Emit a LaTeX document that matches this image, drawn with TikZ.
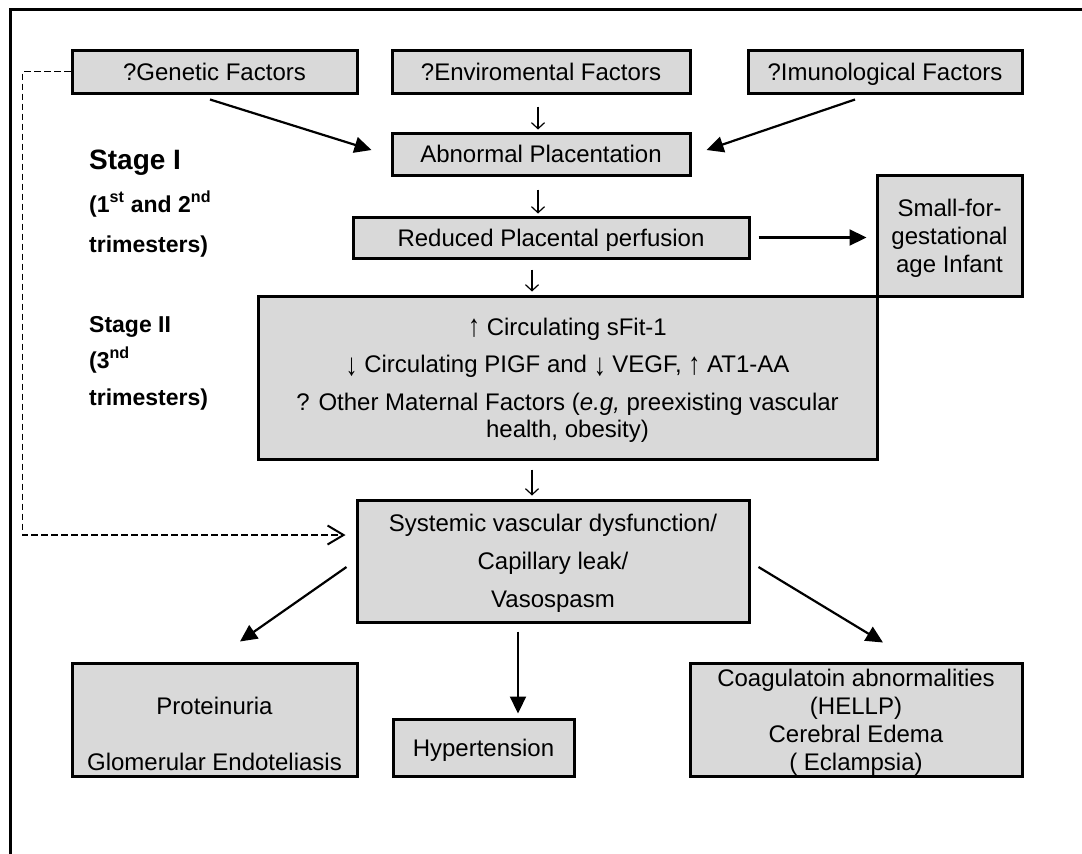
\documentclass[tikz,border=0pt]{standalone}
\usepackage{fontspec}
\usepackage{graphicx}
\setmainfont{Liberation Sans}
\usetikzlibrary{arrows.meta,calc}
\definecolor{boxgray}{HTML}{D9D9D9}
% centred stack of lines; reference point is the first baseline
\newcommand\stacklines[1]{\vtop{\halign{\hfil##\hfil\cr#1\crcr}}}
% taller up/down arrow glyphs for the factor list
\newcommand\uparr{\raisebox{-1.5pt}{\scalebox{1}[1.3]{↑}}}
\newcommand\dnarr{\raisebox{-2.5pt}{\scalebox{1}[1.3]{↓}}}

\begin{document}
\begin{tikzpicture}[x=1pt,y=-1pt,
  box/.style={draw=black, line width=3pt, fill=boxgray, inner sep=0pt,
    font=\fontsize{24}{28}\selectfont, text height=17.2pt, text depth=0pt},
  stagelbl/.style={anchor=base west, inner sep=0pt,
    font=\bfseries\fontsize{23}{23}\selectfont},
  farrow/.style={line width=2.2pt, -{Triangle[length=17pt,width=16pt]}},
  smallarr/.style={line width=1.2pt, -{Straight Barb[length=6pt,width=13pt]}},
  dasharr/.style={line width=1.8pt, dash pattern=on 6.5pt off 3.5pt,
    -{Straight Barb[length=16pt,width=19pt,line width=2pt]}}]
\useasboundingbox (0,0) rectangle (1082,854);

% outer frame (open to the right and bottom)
\draw[line width=3.2pt] (1082,9.5) -- (10.5,9.5) -- (10.5,854);

% stage I: possible causes
\node[box, minimum width=285pt, minimum height=43pt] (gen) at (214.5,71.5) {?Genetic Factors};
\node[box, minimum width=298pt, minimum height=43pt] (env) at (541,71.5) {?Enviromental Factors};
\node[box, minimum width=274pt, minimum height=43pt] (imm) at (885,71.5) {?Imunological Factors};
\node[box, minimum width=298pt, minimum height=42pt] (abn) at (541,154) {Abnormal Placentation};
\node[box, minimum width=396pt, minimum height=41pt] (red) at (551,237.5) {Reduced Placental perfusion};
\node[box, minimum width=145pt, minimum height=121pt, text depth=56pt] (sga) at (949.5,235.5)
  {\stacklines{Small-for-\cr gestational\cr age Infant}};

% stage II: circulating and maternal factors
\node[box, minimum width=619pt, minimum height=163pt, text depth=102pt,
  font=\fontsize{24}{27}\selectfont] (mat) at (567.5,377.5)
  {\stacklines{\uparr\ Circulating sFit-1\cr
    \noalign{\vskip10.5pt}
    \dnarr\ Circulating PIGF and \dnarr\ VEGF, \uparr\ AT1-AA\cr
    \noalign{\vskip10.5pt}
    ? Other Maternal Factors (\textit{e.g,} preexisting vascular\cr
    health, obesity)}};

% common pathway
\node[box, minimum width=392pt, minimum height=122pt, text depth=76pt,
  font=\fontsize{24}{38}\selectfont] (sys) at (553,561)
  {\stacklines{Systemic vascular dysfunction/\cr Capillary leak/\cr Vasospasm}};

% clinical manifestations
\node[box, minimum width=285pt, minimum height=113pt, text height=45.2pt, text depth=56pt,
  font=\fontsize{24}{56}\selectfont] (prot) at (214.5,719.5)
  {\stacklines{Proteinuria\cr Glomerular Endoteliasis}};
\node[box, minimum width=181pt, minimum height=57pt] (hyp) at (483.5,747.5) {Hypertension};
\node[box, minimum width=332pt, minimum height=113pt, text depth=84pt] (coag) at (856,719.5)
  {\stacklines{Coagulatoin abnormalities\cr (HELLP)\cr Cerebral Edema\cr ( Eclampsia)}};

% stage labels
\node[stagelbl, font=\bfseries\fontsize{28}{28}\selectfont] (s1) at (89,169) {Stage I};
\node[stagelbl] (s1a) at (89,212) {(1\textsuperscript{st} and 2\textsuperscript{nd}};
\node[stagelbl] (s1b) at (89,252) {trimesters)};
\node[stagelbl] (s2) at (89,332) {Stage II};
\node[stagelbl] (s2a) at (89,368) {(3\textsuperscript{nd}};
\node[stagelbl] (s2b) at (89,405) {trimesters)};

% causal arrows
\draw[farrow] ($(gen.south)+(-4.5,5)$) -- ($(abn.west)+(-19,-4)$);
\draw[farrow] ($(imm.south)+(-30,5)$) -- ($(abn.east)+(15,-4)$);
\draw[smallarr] ($(env.south)+(-3,12)$) -- ($(abn.north)+(-3,-2)$);
\draw[smallarr] ($(abn.south)+(-3,13)$) -- ($(red.north)+(-13,-2)$);
\draw[farrow] ($(red.east)+(8,0)$) -- ($(sga.west |- red.east)+(-9,0)$);
\draw[smallarr] ($(red.south)+(-19,10)$) -- ($(mat.north)+(-35.5,-3)$);
\draw[smallarr] ($(mat.south)+(-35.5,9)$) -- ($(sys.north)+(-21,-3)$);
\draw[dasharr] (gen.west) -- ++(-48,0) |- ($(sys.west)+(-10,-26)$);
\draw[farrow] ($(sys.west)+(-9,6)$) -- ($(prot.north)+(25.5,-20)$);
\draw[farrow] ($(sys.south)+(-35,8)$) -- ($(hyp.north)+(34.5,-4)$);
\draw[farrow] ($(sys.east)+(8,6)$) -- ($(coag.north)+(27,-19)$);
\end{tikzpicture}
\end{document}
